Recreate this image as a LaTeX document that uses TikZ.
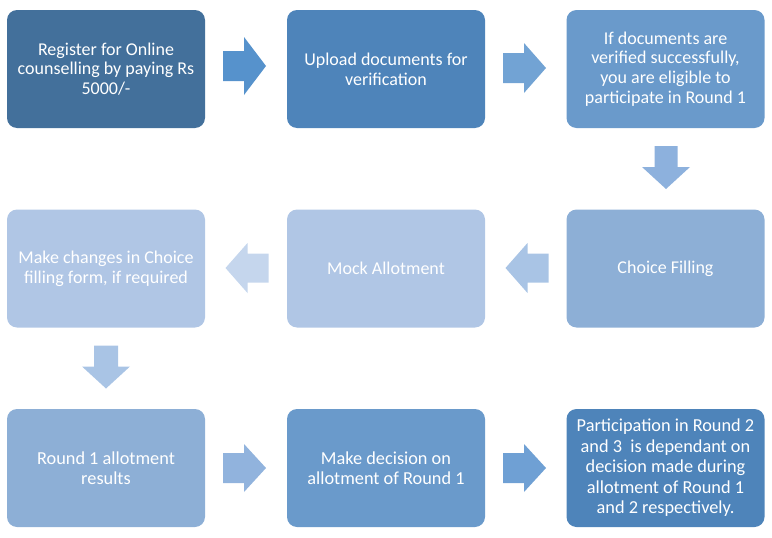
\documentclass[tikz,border=0pt]{standalone}
\usepackage{fontspec}
\setmainfont{Carlito}
\definecolor{cA}{HTML}{43709B}
\definecolor{cB}{HTML}{4E84BA}
\definecolor{cC}{HTML}{6A9ACB}
\definecolor{cD}{HTML}{8DAFD6}
\definecolor{cE}{HTML}{B0C6E5}
\definecolor{aA}{HTML}{5692CC}
\definecolor{aB}{HTML}{72A3D4}
\definecolor{aC}{HTML}{8DB1DD}
\definecolor{aD}{HTML}{A9C4E5}
\definecolor{aE}{HTML}{C5D6ED}
\definecolor{aF}{HTML}{91B3DD}
\definecolor{aG}{HTML}{6FA0D4}
\tikzset{
  stepbox/.style={draw=none, rounded corners=10pt, minimum width=198pt, minimum height=118pt,
    inner sep=2pt, align=center, text=white,
    font=\fontsize{18}{19.8}\selectfont},
  lowbox/.style={stepbox, font=\fontsize{18.3}{20.5}\selectfont},
}
% block arrow: #1 name, #2 position, #3 rotation, #4 colour, #5 half head width, #6 half shaft width
\newcommand\blockarrow[6]{%
  \coordinate (#1) at #2;
  \begin{scope}[shift={(#1)}, rotate=#3]
    \fill[#4] (-21.5,-#6) -- (-0.5,-#6) -- (-0.5,-#5) -- (21.5,0) -- (-0.5,#5) -- (-0.5,#6) -- (-21.5,#6) -- cycle;
  \end{scope}}
\begin{document}
\begin{tikzpicture}[x=1pt,y=-1pt]
\useasboundingbox (0,0) rectangle (772,538);
\node[stepbox, fill=cA] (b1) at (106,69) {Register for Online\\counselling by paying Rs\\5000/-};
\node[stepbox, fill=cB] (b2) at (386,69) {Upload documents for\\verification};
\node[stepbox, fill=cC] (b3) at (665.5,69) {If documents are\\verified successfully,\\you are eligible to\\participate in Round 1};
\node[stepbox, fill=cD] (b4) at (665.5,268.5) {Choice Filling};
\node[stepbox, fill=cE] (b5) at (386,268.5) {Mock Allotment};
\node[stepbox, fill=cE] (b6) at (106,268.5) {Make changes in Choice\\filling form, if required};
\node[lowbox, fill=cD] (b7) at (106,468) {Round 1 allotment\\results};
\node[lowbox, fill=cC] (b8) at (386,468) {Make decision on\\allotment of Round 1};
\node[lowbox, fill=cB] (b9) at (665.5,468) {Participation in Round 2\\and 3\ \ is dependant on\\decision made during\\allotment of Round 1\\and 2 respectively.};
\blockarrow{a1}{(244.5,66)}{0}{aA}{29}{15}
\blockarrow{a2}{(524.5,68)}{0}{aB}{25}{15}
\blockarrow{a3}{(666,167.5)}{-90}{aC}{24}{11.5}
\blockarrow{a4}{(527,268)}{180}{aD}{25}{14.5}
\blockarrow{a5}{(247,268)}{180}{aE}{25}{14.5}
\blockarrow{a6}{(106,367)}{-90}{aD}{24}{12}
\blockarrow{a7}{(244.5,468)}{0}{aF}{24}{15}
\blockarrow{a8}{(524.5,468)}{0}{aG}{24}{15}
\end{tikzpicture}
\end{document}
